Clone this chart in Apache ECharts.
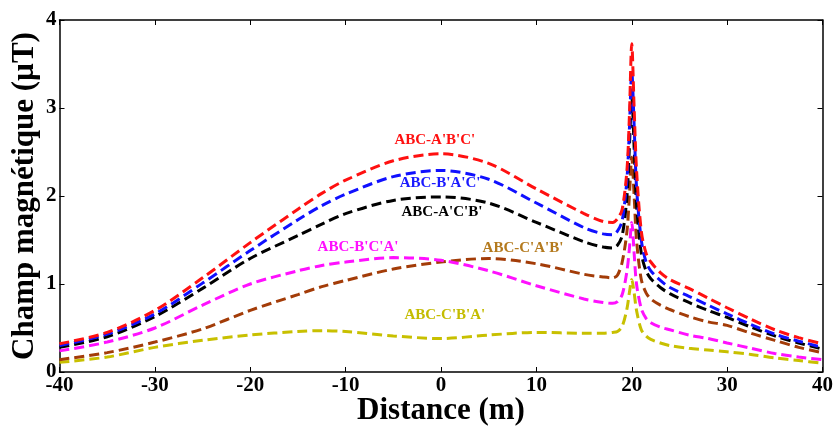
<!DOCTYPE html>
<html>
<head>
<meta charset="utf-8">
<script src="https://cdn.jsdelivr.net/npm/echarts@6/dist/echarts.min.js"></script>
<style>html,body{margin:0;padding:0;background:#fff;}#c{width:834px;height:429px;}</style>
</head>
<body>
<div id="c"></div>
<script>
// Distance (m)
const distance = [-40, -35, -30, -25, -20, -15, -12.5, -10, -5, 0, 5, 10, 15, 17, 18, 18.5, 19, 19.5, 19.75, 20, 20.25, 20.5, 21, 21.5, 22, 23, 24, 26, 28, 30, 32.5, 35, 37.5, 40];
// Champ magnétique (µT)
const abcABC = [0.32, 0.45, 0.70, 1.07, 1.47, 1.85, 2.03, 2.18, 2.40, 2.48, 2.37, 2.08, 1.80, 1.71, 1.70, 1.74, 1.85, 2.30, 2.90, 3.73, 3.00, 2.30, 1.60, 1.35, 1.25, 1.13, 1.05, 0.95, 0.84, 0.73, 0.60, 0.48, 0.39, 0.32];
const abcBAC = [0.30, 0.43, 0.66, 1.01, 1.38, 1.73, 1.89, 2.02, 2.22, 2.29, 2.19, 1.92, 1.64, 1.57, 1.56, 1.60, 1.72, 2.20, 2.75, 3.42, 2.80, 2.10, 1.50, 1.25, 1.15, 1.04, 0.96, 0.86, 0.76, 0.66, 0.54, 0.43, 0.35, 0.28];
const abcACB = [0.28, 0.40, 0.63, 0.95, 1.29, 1.55, 1.68, 1.80, 1.95, 1.99, 1.92, 1.70, 1.48, 1.42, 1.41, 1.44, 1.55, 2.00, 2.55, 3.13, 2.55, 1.90, 1.35, 1.15, 1.06, 0.96, 0.89, 0.79, 0.70, 0.62, 0.51, 0.41, 0.33, 0.26];
const abcBCA = [0.24, 0.34, 0.50, 0.76, 1.00, 1.15, 1.21, 1.25, 1.30, 1.27, 1.15, 0.98, 0.83, 0.79, 0.78, 0.80, 0.88, 1.15, 1.40, 1.70, 1.35, 1.00, 0.72, 0.61, 0.56, 0.51, 0.48, 0.42, 0.38, 0.33, 0.27, 0.21, 0.17, 0.14];
const abcCAB = [0.14, 0.22, 0.34, 0.49, 0.70, 0.88, 0.97, 1.04, 1.17, 1.25, 1.29, 1.23, 1.11, 1.08, 1.07, 1.10, 1.25, 1.60, 2.00, 2.44, 2.00, 1.50, 1.05, 0.90, 0.83, 0.76, 0.71, 0.63, 0.57, 0.53, 0.44, 0.36, 0.28, 0.22];
const abcCBA = [0.11, 0.17, 0.28, 0.36, 0.42, 0.46, 0.47, 0.46, 0.41, 0.38, 0.42, 0.45, 0.44, 0.44, 0.45, 0.46, 0.52, 0.72, 0.90, 1.05, 0.90, 0.70, 0.48, 0.41, 0.37, 0.33, 0.30, 0.27, 0.25, 0.23, 0.20, 0.16, 0.13, 0.10];

const seriesNames = ["ABC-A'B'C'", "ABC-B'A'C'", "ABC-A'C'B'", "ABC-B'C'A'", "ABC-C'A'B'", "ABC-C'B'A'"];
const seriesValues = [abcABC, abcBAC, abcACB, abcBCA, abcCAB, abcCBA];
const lineColors = ['#ff1010', '#1010ff', '#000000', '#ff10ff', '#a33c08', '#c8c000'];
const labelColors = ['#ff1010', '#1a1aff', '#000000', '#ff10ff', '#b47a1e', '#c4bc00'];
const labelAt = [[-0.65, 2.64], [-0.1, 2.15], [0.1, 1.82], [-8.7, 1.42], [8.6, 1.41], [0.4, 0.65]];

const font = '"Liberation Serif", "Times New Roman", serif';
const chart = echarts.init(document.getElementById('c'), null, {renderer: 'canvas'});

const series = seriesNames.map((name, i) => ({
  name: name,
  type: 'line',
  data: distance.map((d, k) => [d, seriesValues[i][k]]),
  showSymbol: false,
  smooth: 0.3,
  lineStyle: {color: lineColors[i], width: 3, type: [10, 5]},
  itemStyle: {color: lineColors[i]},
  z: 10 - i,
  markPoint: {
    symbol: 'circle', symbolSize: 0, silent: true,
    label: {show: true, formatter: name, color: labelColors[i], fontFamily: font, fontWeight: 'bold', fontSize: 15, position: 'inside'},
    data: [{coord: labelAt[i]}]
  }
}));

const axisCommon = {
  axisLine: {show: true, onZero: false, lineStyle: {color: '#000', width: 1.5}},
  axisTick: {show: true, inside: true, length: 5, lineStyle: {color: '#000', width: 1}},
  splitLine: {show: false}
};

chart.setOption({
  animation: false,
  backgroundColor: '#fff',
  grid: {left: 59.5, right: 11.5, top: 20, bottom: 57, containLabel: false, outerBoundsMode: 'none'},
  xAxis: [
    Object.assign({
      type: 'value', min: -40, max: 40, interval: 10, position: 'bottom',
      name: 'Distance (m)', nameLocation: 'middle', nameGap: 23, nameMoveOverlap: false,
      nameTextStyle: {fontFamily: font, fontWeight: 'bold', fontSize: 31, color: '#000'},
      axisLabel: {fontFamily: font, fontWeight: 'bold', fontSize: 21, color: '#000', margin: 3}
    }, axisCommon),
    Object.assign({type: 'value', min: -40, max: 40, interval: 10, position: 'top', axisLabel: {show: false}}, axisCommon)
  ],
  yAxis: [
    Object.assign({
      type: 'value', min: 0, max: 4, interval: 1, position: 'left',
      name: 'Champ magnétique (µT)', nameLocation: 'middle', nameGap: 19, nameMoveOverlap: false,
      nameTextStyle: {fontFamily: font, fontWeight: 'bold', fontSize: 31, color: '#000'},
      axisLabel: {fontFamily: font, fontWeight: 'bold', fontSize: 21, color: '#000', margin: 3}
    }, axisCommon),
    Object.assign({type: 'value', min: 0, max: 4, interval: 1, position: 'right', axisLabel: {show: false}}, axisCommon)
  ],
  series: series
});
</script>
</body>
</html>
